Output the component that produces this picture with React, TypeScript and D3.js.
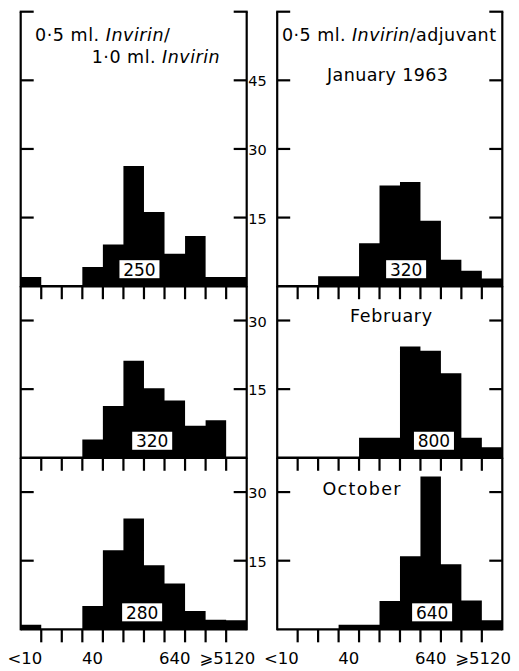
import React from "react";
import * as d3 from "d3";

// ---- data ----
const bins = ["<10", "10", "20", "40", "80", "160", "320", "640", "1280", "2560", "⩾5120"];
const labelledBins = [0, 3, 7, 10];

const leftJan = [2, 0, 0, 4.2, 9.1, 26.3, 16.2, 7.1, 11, 2, 2];
const leftFeb = [0, 0, 0, 4, 11.3, 21.2, 15.2, 12.5, 7, 8.2, 0];
const leftOct = [1, 0, 0, 5.1, 17.3, 24.2, 14, 10, 4, 2.1, 2];

const rightJan = [0, 0, 2.2, 2.2, 9.4, 22, 22.8, 14.3, 5.8, 3.4, 1.7];
const rightFeb = [0, 0, 0, 0, 4.4, 4.4, 24.3, 23.4, 18.5, 4.4, 2.3];
const rightOct = [0, 0, 0, 1, 1, 6.2, 16, 33.4, 14.2, 6.3, 2];

const leftMedians = ["250", "320", "280"];
const rightMedians = ["320", "800", "640"];
// median marker position in bin units
const leftMedianPos = [5.78, 6.4, 5.91];
const rightMedianPos = [6.3, 7.66, 7.57];

const panelMax = [60, 37.5, 37.5];
const yTicksTop = [15, 30, 45];
const yTicksOther = [15, 30];
const monthLabels = ["January 1963", "February", "October"];

// ---- layout ----
const W = 519;
const H = 671;
const leftX: [number, number] = [20.7, 246.7];
const rightX: [number, number] = [277.2, 502.3];
const top0 = 11.7;
const unit = 4.575;
const FONT = "'DejaVu Sans', sans-serif";

const panelTops: number[] = [];
{
  let t = top0;
  panelMax.forEach((m) => {
    panelTops.push(t);
    t += m * unit;
  });
}

function Panel({
  values,
  xRange,
  rowIdx,
  median,
  medianPos,
  yTickLabels,
}: {
  values: number[];
  xRange: [number, number];
  rowIdx: number;
  median: string;
  medianPos: number;
  yTickLabels: boolean;
}) {
  const max = panelMax[rowIdx];
  const t = panelTops[rowIdx];
  const base = t + max * unit;
  const x = d3.scaleLinear().domain([0, bins.length]).range(xRange);
  const y = d3.scaleLinear().domain([0, max]).range([base, t]);
  const ticks = rowIdx === 0 ? yTicksTop : yTicksOther;
  const area = d3
    .area<number>()
    .curve(d3.curveStepAfter)
    .x((_, i) => x(i))
    .y0(base)
    .y1((d) => y(d));
  const pts = [...values, values[values.length - 1]];
  const mx = x(medianPos);
  const bw = 40;
  const bh = 18;
  return (
    <g>
      <path d={area(pts) || ""} fill="#000" />
      {/* baseline */}
      <line x1={xRange[0]} x2={xRange[1]} y1={base} y2={base} stroke="#000" strokeWidth={2.4} />
      {/* x ticks below baseline */}
      {d3.range(1, bins.length).map((i) => (
        <line key={i} x1={x(i)} x2={x(i)} y1={base} y2={base + 13} stroke="#000" strokeWidth={2.2} />
      ))}
      {/* frame verticals */}
      <line x1={xRange[0]} x2={xRange[0]} y1={t} y2={base + 1} stroke="#000" strokeWidth={2.2} />
      <line x1={xRange[1]} x2={xRange[1]} y1={t} y2={base + 1} stroke="#000" strokeWidth={2.2} />
      {rowIdx === 0 && (
        <g>
          <line x1={xRange[0] - 1} x2={xRange[0] + 13} y1={t} y2={t} stroke="#000" strokeWidth={2.2} />
          <line x1={xRange[1] - 13} x2={xRange[1] + 1} y1={t} y2={t} stroke="#000" strokeWidth={2.2} />
        </g>
      )}
      {ticks.map((v) => (
        <g key={v}>
          <line x1={xRange[0]} x2={xRange[0] + 13} y1={y(v)} y2={y(v)} stroke="#000" strokeWidth={2.2} />
          <line x1={xRange[1] - 13} x2={xRange[1]} y1={y(v)} y2={y(v)} stroke="#000" strokeWidth={2.2} />
          {yTickLabels && (
            <text x={xRange[1] + 1.5} y={y(v) + 6} fontSize={14.5} fontFamily={FONT}>
              {v}
            </text>
          )}
        </g>
      ))}
      <rect x={mx - bw / 2} y={base - 8 - bh} width={bw} height={bh} fill="#fff" />
      <text x={mx} y={base - 10.5} textAnchor="middle" fontSize={17} fontFamily={FONT}>
        {median}
      </text>
    </g>
  );
}

export default function App() {
  const xl = d3.scaleLinear().domain([0, bins.length]).range(leftX);
  const xr = d3.scaleLinear().domain([0, bins.length]).range(rightX);
  const leftSeries = [leftJan, leftFeb, leftOct];
  const rightSeries = [rightJan, rightFeb, rightOct];
  const monthY = [81, 322, 495];
  const monthX = [327, 350, 322.5];
  const monthLen = [121, 82, 78];
  const axisLabel = (xs: d3.ScaleLinear<number, number>, side: string) =>
    labelledBins.map((i) => {
      const dx = i === 0 ? -6 : i === 10 ? -9 : 0;
      return (
        <text
          key={side + i}
          x={xs(i + 0.5) + dx}
          y={664}
          textAnchor="middle"
          fontSize={16.5}
          fontFamily={FONT}
        >
          {bins[i]}
        </text>
      );
    });
  return (
    <svg
      width={W}
      height={H}
      style={{ position: "absolute", left: 0, top: 0, background: "#fff" }}
    >
      <rect x={0} y={0} width={W} height={H} fill="#fff" />
      {leftSeries.map((v, r) => (
        <Panel
          key={"l" + r}
          values={v}
          xRange={leftX}
          rowIdx={r}
          median={leftMedians[r]}
          medianPos={leftMedianPos[r]}
          yTickLabels={true}
        />
      ))}
      {rightSeries.map((v, r) => (
        <Panel
          key={"r" + r}
          values={v}
          xRange={rightX}
          rowIdx={r}
          median={rightMedians[r]}
          medianPos={rightMedianPos[r]}
          yTickLabels={false}
        />
      ))}
      {/* titles */}
      <text x={35} y={40.5} fontSize={17.5} fontFamily={FONT} textLength={135} lengthAdjust="spacing">
        0·5 ml. <tspan fontStyle="italic">Invirin</tspan>/
      </text>
      <text x={91.7} y={63} fontSize={17.5} fontFamily={FONT} textLength={128} lengthAdjust="spacing">
        1·0 ml. <tspan fontStyle="italic">Invirin</tspan>
      </text>
      <text x={282} y={40.5} fontSize={17.5} fontFamily={FONT} textLength={214} lengthAdjust="spacing">
        0·5 ml. <tspan fontStyle="italic">Invirin</tspan>/adjuvant
      </text>
      {monthLabels.map((m, i) => (
        <text
          key={m}
          x={monthX[i]}
          y={monthY[i]}
          fontSize={17.5}
          fontFamily={FONT}
          textLength={monthLen[i]}
          lengthAdjust="spacing"
        >
          {m}
        </text>
      ))}
      {axisLabel(xl, "l")}
      {axisLabel(xr, "r")}
    </svg>
  );
}
